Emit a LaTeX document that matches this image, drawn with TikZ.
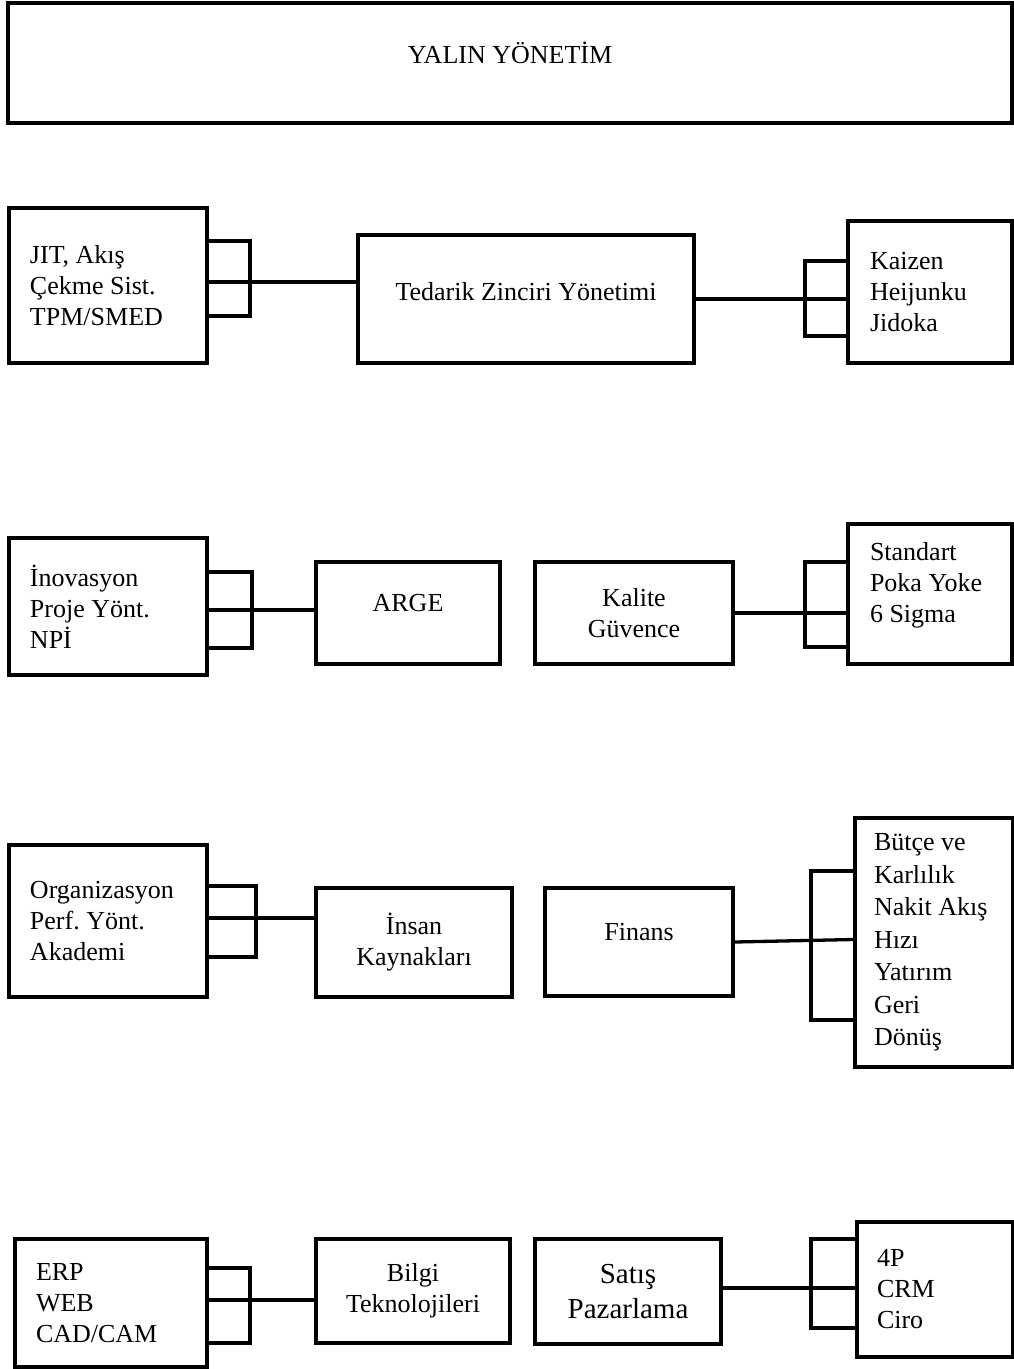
\documentclass[tikz,border=0pt]{standalone}
\usepackage{fontspec}
\setmainfont{Liberation Serif}
\usepackage{tikz}
\usetikzlibrary{calc}

\begin{document}
\begin{tikzpicture}[
  x=1pt, y=-1pt,
  topic/.style={
    rectangle, draw=black, line width=3.8pt, inner sep=0pt,
    font=\fontsize{26pt}{31pt}\selectfont\frenchspacing, align=center
  },
  tools/.style={
    topic, align=flush left, inner xsep=21pt, text width=#1
  },
  lift/.style={text height=17pt, text depth=#1},
  link/.style={line width=3.3pt, black}
]
  \useasboundingbox (0,0) rectangle (1014,1369);

  \node[topic, lift=16pt, minimum width=1004pt, minimum height=120pt] (yalin) at (510,63) {YALIN YÖNETİM};

  \node[tools=156pt, minimum width=198pt, minimum height=155pt] (jit) at (108,285.5) {JIT, Akış\\Çekme Sist.\\TPM/SMED};
  \node[topic, lift=14pt, minimum width=336pt, minimum height=128pt] (ted) at (526,299) {Tedarik Zinciri Yönetimi};
  \node[tools=120pt, inner xsep=22pt, minimum width=164pt, minimum height=142pt] (kai) at (930,292) {Kaizen\\Heijunku\\Jidoka};

  \node[tools=156pt, minimum width=198pt, minimum height=137pt] (ino) at (108,606.5) {İnovasyon\\Proje Yönt.\\NPİ};
  \node[topic, lift=20pt, minimum width=184pt, minimum height=102pt] (arge) at (408,613) {ARGE};
  \node[topic, minimum width=198pt, minimum height=102pt] (kal) at (634,613) {Kalite\\Güvence};
  \node[tools=120pt, inner xsep=22pt, lift=84pt, minimum width=164pt, minimum height=140pt] (std) at (930,594) {Standart\\Poka Yoke\\6 Sigma};

  \node[tools=156pt, minimum width=198pt, minimum height=152pt] (org) at (108,921) {Organizasyon\\Perf. Yönt.\\Akademi};
  \node[topic, minimum width=196pt, minimum height=109pt] (ins) at (414,942.5) {İnsan\\Kaynakları};
  \node[topic, lift=20pt, minimum width=188pt, minimum height=108pt] (fin) at (639,942) {Finans};
  \node[tools=120pt, inner xsep=19pt, font=\fontsize{26pt}{32.5pt}\selectfont\frenchspacing, minimum width=158pt, minimum height=249pt] (bud) at (934,942.5) {Bütçe ve\\Karlılık\\Nakit Akış\\Hızı\\Yatırım\\Geri\\Dönüş};

  \node[tools=150pt, minimum width=192pt, minimum height=128pt] (erp) at (111,1303) {ERP\\WEB\\CAD/CAM};
  \node[topic, minimum width=194pt, minimum height=104pt] (bil) at (413,1291) {Bilgi\\Teknolojileri};
  \node[topic, font=\fontsize{29pt}{35pt}\selectfont, minimum width=186pt, minimum height=105pt] (sat) at (628,1291.5) {Satış\\Pazarlama};
  \node[tools=116pt, inner xsep=20pt, minimum width=156pt, minimum height=135pt] (fp) at (935,1289.5) {4P\\CRM\\Ciro};

  \foreach \n/\up/\dn/\dx in {jit.east/44.5pt/-30.5pt/41pt, kai.west/31pt/-44pt/-41pt,
      ino.east/34.5pt/-41.5pt/43pt, std.west/32pt/-53pt/-41pt,
      org.east/35pt/-36pt/47pt, bud.west/71.5pt/-77.5pt/-42pt,
      erp.east/35pt/-40pt/41pt, fp.west/50.5pt/-38.5pt/-44pt} {
    \draw[link] ([yshift=\up]\n) -- ++(\dx,0pt) |- ([yshift=\dn]\n);
  }

  \draw[link] ([yshift=3.5pt]jit.east) -- ([yshift=3.5pt]jit.east -| ted.west);
  \draw[link] (ted.east) -- (ted.east -| kai.west);
  \draw[link] ([yshift=-3.5pt]ino.east) -- ([yshift=-3.5pt]ino.east -| arge.west);
  \draw[link] (kal.east) -- (kal.east -| std.west);
  \draw[link] ([yshift=3pt]org.east) -- ([yshift=3pt]org.east -| ins.west);
  \draw[link] (fin.east) -- ([yshift=3pt]bud.west);
  \draw[link] ([yshift=3pt]erp.east) -- ([yshift=3pt]erp.east -| bil.west);
  \draw[link] ([yshift=3.5pt]sat.east) -- ([yshift=3.5pt]sat.east -| fp.west);
\end{tikzpicture}
\end{document}
